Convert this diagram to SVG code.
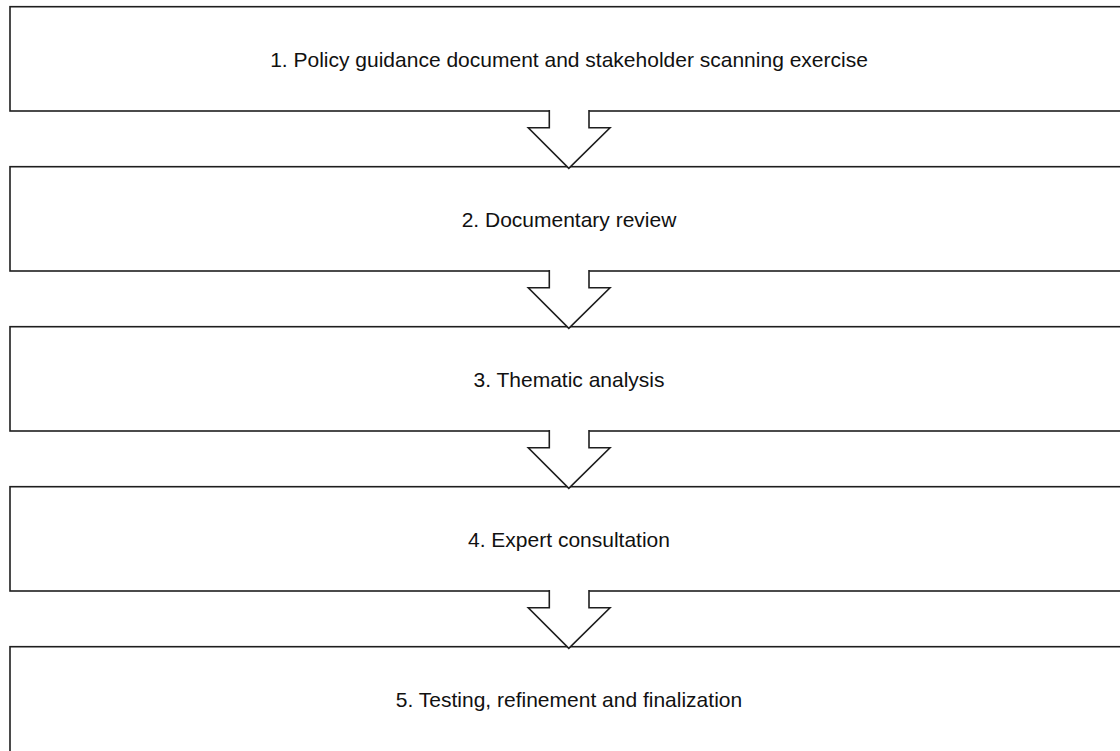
<svg xmlns="http://www.w3.org/2000/svg" width="1120" height="751" viewBox="0 0 1120 751">
<style>
.box{fill:#fff;stroke:#1e1e1e;stroke-width:1.6}
.lbl{font-family:"Liberation Sans",Arial,sans-serif;font-size:21px;fill:#111;text-anchor:middle}
.arr{fill:#fff;stroke:#1e1e1e;stroke-width:1.6;stroke-linejoin:miter}
</style>
<rect width="1120" height="751" fill="#fff"/>
<g id="node1"><rect class="box" x="10" y="6.7" width="1118" height="104.3"/><text class="lbl" x="569" y="66.5">1. Policy guidance document and stakeholder scanning exercise</text></g>
<g id="node2"><rect class="box" x="10" y="166.7" width="1118" height="104.3"/><text class="lbl" x="569" y="226.5">2. Documentary review</text></g>
<g id="node3"><rect class="box" x="10" y="326.7" width="1118" height="104.3"/><text class="lbl" x="569" y="386.5">3. Thematic analysis</text></g>
<g id="node4"><rect class="box" x="10" y="486.7" width="1118" height="104.3"/><text class="lbl" x="569" y="546.5">4. Expert consultation</text></g>
<g id="node5"><rect class="box" x="10" y="646.7" width="1118" height="110"/><text class="lbl" x="569" y="706.5">5. Testing, refinement and finalization</text></g>
<g id="connectors">
<path class="arr" d="M549.3,110 V127.7 H528.3 L568.8,168.3 L610,127.7 H589 V110"/>
<path class="arr" d="M549.3,270 V287.7 H528.3 L568.8,328.3 L610,287.7 H589 V270"/>
<path class="arr" d="M549.3,430 V447.7 H528.3 L568.8,488.3 L610,447.7 H589 V430"/>
<path class="arr" d="M549.3,590 V607.7 H528.3 L568.8,648.3 L610,607.7 H589 V590"/>
</g>
</svg>
